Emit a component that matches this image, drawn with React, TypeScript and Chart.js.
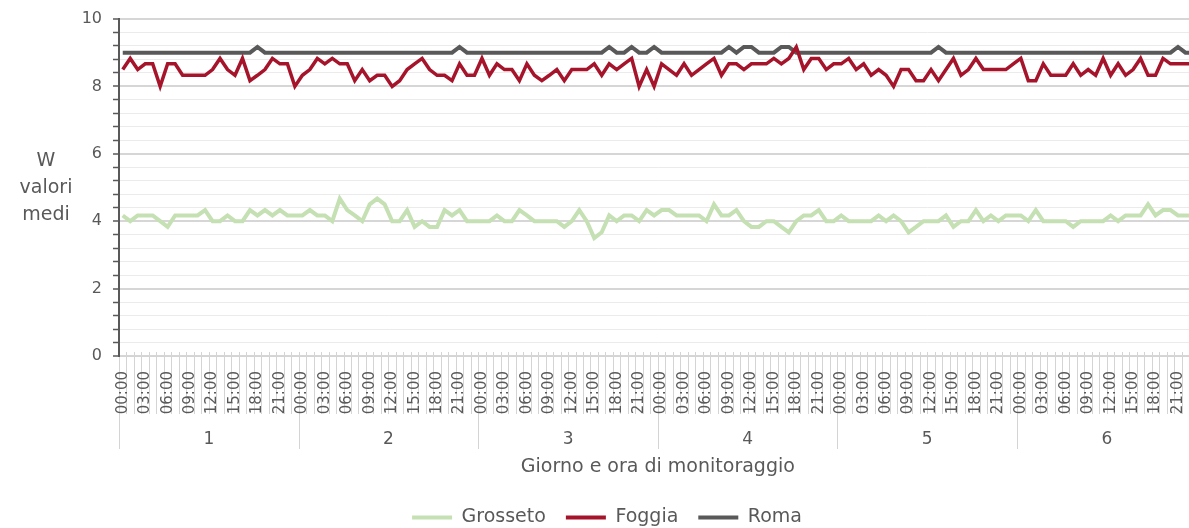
import React, { useEffect, useRef } from 'react';
import { Chart, registerables } from 'chart.js';

Chart.register(...registerables);

// ---------- data ----------
const DAYS = ['1', '2', '3', '4', '5', '6'];
const HOURS = [
  '00:00', '01:00', '02:00', '03:00', '04:00', '05:00', '06:00', '07:00',
  '08:00', '09:00', '10:00', '11:00', '12:00', '13:00', '14:00', '15:00',
  '16:00', '17:00', '18:00', '19:00', '20:00', '21:00', '22:00', '23:00',
];
const SERIES_NAMES = ['Grosseto', 'Foggia', 'Roma'];
const X_TITLE = 'Giorno e ora di monitoraggio';
const Y_TITLE = ['W', 'valori', 'medi'];

const GROSSETO = [
  4.17, 4.0, 4.17, 4.17, 4.17, 4.0, 3.83, 4.17, 4.17, 4.17, 4.17, 4.33, 4.0, 4.0, 4.17, 4.0, 4.0, 4.33, 4.17, 4.33, 4.17, 4.33, 4.17, 4.17,
  4.17, 4.33, 4.17, 4.17, 4.0, 4.67, 4.33, 4.17, 4.0, 4.5, 4.67, 4.5, 4.0, 4.0, 4.33, 3.83, 4.0, 3.83, 3.83, 4.33, 4.17, 4.33, 4.0, 4.0,
  4.0, 4.0, 4.17, 4.0, 4.0, 4.33, 4.17, 4.0, 4.0, 4.0, 4.0, 3.83, 4.0, 4.33, 4.0, 3.5, 3.67, 4.17, 4.0, 4.17, 4.17, 4.0, 4.33, 4.17,
  4.33, 4.33, 4.17, 4.17, 4.17, 4.17, 4.0, 4.5, 4.17, 4.17, 4.33, 4.0, 3.83, 3.83, 4.0, 4.0, 3.83, 3.67, 4.0, 4.17, 4.17, 4.33, 4.0, 4.0,
  4.17, 4.0, 4.0, 4.0, 4.0, 4.17, 4.0, 4.17, 4.0, 3.67, 3.83, 4.0, 4.0, 4.0, 4.17, 3.83, 4.0, 4.0, 4.33, 4.0, 4.17, 4.0, 4.17, 4.17,
  4.17, 4.0, 4.33, 4.0, 4.0, 4.0, 4.0, 3.83, 4.0, 4.0, 4.0, 4.0, 4.17, 4.0, 4.17, 4.17, 4.17, 4.5, 4.17, 4.33, 4.33, 4.17, 4.17, 4.17,
];

const FOGGIA = [
  8.5, 8.83, 8.5, 8.67, 8.67, 8.0, 8.67, 8.67, 8.33, 8.33, 8.33, 8.33, 8.5, 8.83, 8.5, 8.33, 8.83, 8.17, 8.33, 8.5, 8.83, 8.67, 8.67, 8.0,
  8.33, 8.5, 8.83, 8.67, 8.83, 8.67, 8.67, 8.17, 8.5, 8.17, 8.33, 8.33, 8.0, 8.17, 8.5, 8.67, 8.83, 8.5, 8.33, 8.33, 8.17, 8.67, 8.33, 8.33,
  8.83, 8.33, 8.67, 8.5, 8.5, 8.17, 8.67, 8.33, 8.17, 8.33, 8.5, 8.17, 8.5, 8.5, 8.5, 8.67, 8.33, 8.67, 8.5, 8.67, 8.83, 8.0, 8.5, 8.0,
  8.67, 8.5, 8.33, 8.67, 8.33, 8.5, 8.67, 8.83, 8.33, 8.67, 8.67, 8.5, 8.67, 8.67, 8.67, 8.83, 8.67, 8.83, 9.17, 8.5, 8.83, 8.83, 8.5, 8.67,
  8.67, 8.83, 8.5, 8.67, 8.33, 8.5, 8.33, 8.0, 8.5, 8.5, 8.17, 8.17, 8.5, 8.17, 8.5, 8.83, 8.33, 8.5, 8.83, 8.5, 8.5, 8.5, 8.5, 8.67,
  8.83, 8.17, 8.17, 8.67, 8.33, 8.33, 8.33, 8.67, 8.33, 8.5, 8.33, 8.83, 8.33, 8.67, 8.33, 8.5, 8.83, 8.33, 8.33, 8.83, 8.67, 8.67, 8.67, 8.67,
];

const ROMA = [
  9, 9, 9, 9, 9, 9, 9, 9, 9, 9, 9, 9, 9, 9, 9, 9, 9, 9, 9.17, 9, 9, 9, 9, 9,
  9, 9, 9, 9, 9, 9, 9, 9, 9, 9, 9, 9, 9, 9, 9, 9, 9, 9, 9, 9, 9, 9.17, 9, 9,
  9, 9, 9, 9, 9, 9, 9, 9, 9, 9, 9, 9, 9, 9, 9, 9, 9, 9.17, 9, 9, 9.17, 9, 9, 9.17,
  9, 9, 9, 9, 9, 9, 9, 9, 9, 9.17, 9, 9.17, 9.17, 9, 9, 9, 9.17, 9.17, 9, 9, 9, 9, 9, 9,
  9, 9, 9, 9, 9, 9, 9, 9, 9, 9, 9, 9, 9, 9.17, 9, 9, 9, 9, 9, 9, 9, 9, 9, 9,
  9, 9, 9, 9, 9, 9, 9, 9, 9, 9, 9, 9, 9, 9, 9, 9, 9, 9, 9, 9, 9, 9.17, 9, 9,
];

const Y_MIN = 0;
const Y_MAX = 10;
const Y_MINOR_STEP = 0.4;
const Y_MAJOR_STEP = 2;

// ---------- style ----------
const FONT = "'DejaVu Sans', sans-serif";
const TEXT = '#595959';
const COLORS = ['#C5E0B3', '#A5142A', '#595959'];
const WIDTHS = [4, 3.5, 4];

const CATEGORIES = DAYS.flatMap((d) => HOURS.map((h) => `${d} ${h}`));

const isMajor = (v: number) =>
  Math.abs(v / Y_MAJOR_STEP - Math.round(v / Y_MAJOR_STEP)) < 1e-6;

const decor = {
  id: 'decor',
  beforeDraw(chart: any) {
    const { ctx, chartArea, scales } = chart;
    const x = scales.x;
    const step = x.getPixelForValue(1) - x.getPixelForValue(0);
    const yAxis = chartArea.bottom;
    ctx.save();
    ctx.strokeStyle = '#d4d4d4';
    ctx.lineWidth = 1;
    ctx.beginPath();
    for (let k = 0; k <= CATEGORIES.length; k++) {
      const px = Math.round(x.getPixelForValue(k) - step / 2) + 0.5;
      const isDay = k % HOURS.length === 0;
      ctx.moveTo(px, yAxis - 4);
      ctx.lineTo(px, yAxis + (isDay ? 93 : 58));
    }
    ctx.stroke();
    ctx.restore();
  },
  afterDraw(chart: any) {
    const { ctx, chartArea, scales } = chart;
    const x = scales.x;
    ctx.save();
    ctx.fillStyle = TEXT;
    ctx.textAlign = 'center';
    ctx.textBaseline = 'middle';
    ctx.font = `17px ${FONT}`;
    DAYS.forEach((d, i) => {
      const a = x.getPixelForValue(i * HOURS.length);
      const b = x.getPixelForValue((i + 1) * HOURS.length - 1);
      ctx.fillText(d, (a + b) / 2, chartArea.bottom + 84);
    });
    ctx.font = `19px ${FONT}`;
    Y_TITLE.forEach((t, i) => {
      ctx.fillText(t, 46, 161 + i * 27);
    });
    ctx.restore();
  },
};

export default function App() {
  const ref = useRef<HTMLCanvasElement>(null);

  useEffect(() => {
    const canvas = ref.current!;
    const chart = new Chart(canvas, {
      type: 'line',
      data: {
        labels: CATEGORIES,
        datasets: [GROSSETO, FOGGIA, ROMA].map((data, i) => ({
          label: SERIES_NAMES[i],
          data,
          borderColor: COLORS[i],
          backgroundColor: COLORS[i],
          borderWidth: WIDTHS[i],
          pointRadius: 0,
          pointHoverRadius: 0,
          tension: 0,
          fill: false,
        })),
      },
      options: {
        responsive: false,
        animation: false,
        events: [],
        layout: { padding: { top: 19, right: 12, left: 0, bottom: 0 } },
        plugins: {
          tooltip: { enabled: false },
          legend: {
            position: 'bottom',
            labels: {
              boxWidth: 40,
              boxHeight: 4,
              padding: 20,
              color: TEXT,
              font: { family: FONT, size: 19 },
              generateLabels: (c: any) =>
                (Chart.defaults.plugins.legend.labels.generateLabels as any)(c).map((l: any) => ({
                  ...l,
                  fillStyle: l.strokeStyle,
                  lineWidth: 0,
                })),
            },
          },
        },
        scales: {
          x: {
            type: 'category',
            offset: true,
            grid: { display: false, drawTicks: false },
            border: { display: true, color: '#d4d4d4', width: 1 },
            ticks: {
              autoSkip: false,
              maxRotation: 90,
              minRotation: 90,
              padding: 15,
              color: TEXT,
              font: { family: FONT, size: 15 },
              callback: (_v: any, idx: number) => (idx % 3 === 0 ? HOURS[idx % HOURS.length] : ''),
            },
            title: {
              display: true,
              text: X_TITLE,
              color: TEXT,
              font: { family: FONT, size: 19 },
              padding: { top: 0, bottom: 10 },
            },
            afterFit: (scale: any) => {
              scale.height = 132;
            },
          },
          y: {
            min: Y_MIN,
            max: Y_MAX,
            afterBuildTicks: (scale: any) => {
              const n = Math.round((Y_MAX - Y_MIN) / Y_MINOR_STEP);
              const t = [];
              for (let i = 0; i <= n; i++) t.push({ value: +(Y_MIN + i * Y_MINOR_STEP).toFixed(6) });
              scale.ticks = t;
            },
            afterFit: (scale: any) => {
              scale.width = 119;
              scale.paddingTop = 0;
              scale.paddingBottom = 0;
            },
            grid: {
              color: (c: any) => (c.tick && isMajor(c.tick.value) ? '#d6d6d6' : '#ebebeb'),
              lineWidth: (c: any) => (c.tick && isMajor(c.tick.value) ? 2 : 1),
              tickColor: '#595959',
              tickLength: 6,
              tickWidth: 1.5,
              drawTicks: true,
            },
            border: { display: true, color: '#595959', width: 2 },
            ticks: {
              padding: 11,
              color: TEXT,
              font: { family: FONT, size: 16 },
              autoSkip: false,
              callback: (v: any) => (isMajor(Number(v)) ? String(Math.round(Number(v))) : ''),
            },
          },
        },
      },
      plugins: [decor],
    });
    return () => chart.destroy();
  }, []);

  return (
    <div
      style={{
        position: 'fixed',
        left: 0,
        top: 0,
        width: 1189,
        height: 528,
        overflow: 'hidden',
        background: '#ffffff',
      }}
    >
      <canvas ref={ref} width={1226} height={537} style={{ display: 'block' }} />
    </div>
  );
}
